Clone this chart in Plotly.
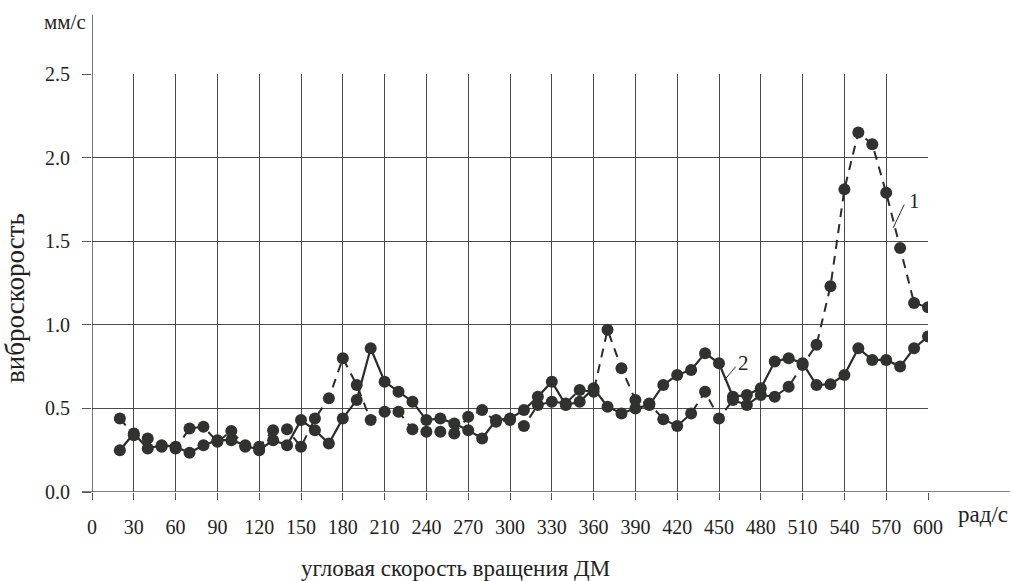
import plotly.graph_objects as go

# угловая скорость, рад/с
omega = list(range(20, 601, 10))

# кривая 1 (штриховая)
curve1 = [0.44, 0.34, 0.32, 0.27, 0.26, 0.38, 0.39, 0.30, 0.365, 0.27,
          0.27, 0.37, 0.375, 0.27, 0.44, 0.56, 0.80, 0.64, 0.43, 0.48,
          0.48, 0.375, 0.36, 0.36, 0.35, 0.45, 0.49, 0.42, 0.43, 0.395,
          0.52, 0.54, 0.53, 0.61, 0.60, 0.97, 0.74, 0.55, 0.53, 0.435,
          0.395, 0.47, 0.60, 0.44, 0.55, 0.52, 0.58, 0.57, 0.63, 0.76,
          0.88, 1.23, 1.81, 2.15, 2.08, 1.79, 1.46, 1.13, 1.105]

# кривая 2 (сплошная)
curve2 = [0.25, 0.35, 0.26, 0.28, 0.27, 0.235, 0.28, 0.31, 0.31, 0.28,
          0.25, 0.31, 0.28, 0.43, 0.37, 0.29, 0.44, 0.55, 0.86, 0.66,
          0.60, 0.54, 0.43, 0.44, 0.41, 0.37, 0.32, 0.43, 0.44, 0.49,
          0.57, 0.66, 0.52, 0.54, 0.62, 0.51, 0.47, 0.50, 0.52, 0.64,
          0.70, 0.73, 0.83, 0.77, 0.57, 0.58, 0.62, 0.78, 0.80, 0.77,
          0.64, 0.645, 0.70, 0.86, 0.79, 0.79, 0.75, 0.86, 0.93]

x_ticks = list(range(0, 601, 30))
y_ticks = [0.0, 0.5, 1.0, 1.5, 2.0, 2.5]

FONT = "Liberation Serif, Times New Roman, serif"
INK = "#2b2b2b"
MARK = "#30322e"
TXT = "#222"

fig = go.Figure()

fig.add_trace(go.Scatter(
    x=omega, y=curve2, mode="lines+markers",
    line=dict(color=INK, width=2.2),
    marker=dict(size=12, color=MARK),
    showlegend=False,
))
fig.add_trace(go.Scatter(
    x=omega, y=curve1, mode="lines+markers",
    line=dict(color=INK, width=2, dash="9px,7px"),
    marker=dict(size=12, color=MARK),
    showlegend=False,
))

# выноски с номерами кривых
fig.add_shape(type="line", x0=575, y0=1.58, x1=583, y1=1.72,
              line=dict(color=INK, width=1))
fig.add_annotation(x=585, y=1.74, text="1", showarrow=False,
                   xanchor="left", yanchor="middle",
                   font=dict(family=FONT, size=21, color=TXT))
fig.add_shape(type="line", x0=454, y0=0.67, x1=462, y1=0.75,
              line=dict(color=INK, width=1))
fig.add_annotation(x=462, y=0.77, text="2", showarrow=False,
                   xanchor="left", yanchor="middle",
                   font=dict(family=FONT, size=21, color=TXT))

# продлённые оси
fig.add_shape(type="line", xref="x", yref="paper", x0=0, x1=0, y0=0, y1=1.142,
              line=dict(color=INK, width=1.3))
fig.add_shape(type="line", xref="paper", yref="y", x0=-0.012, x1=1.098, y0=0, y1=0,
              line=dict(color="#555", width=1.3))

fig.update_xaxes(
    range=[0, 600], tickvals=x_ticks, ticktext=[str(v) for v in x_ticks],
    showgrid=True, gridcolor="#4a4a4a", gridwidth=1,
    zeroline=False, showline=False,
    ticks="outside", ticklen=7, tickcolor="#555",
    ticklabelstandoff=10,
    tickfont=dict(family=FONT, size=20, color=TXT),
)
fig.update_yaxes(
    range=[0, 2.5], tickvals=y_ticks, ticktext=[f"{v:.1f}" for v in y_ticks],
    showgrid=True, gridcolor="#4a4a4a", gridwidth=1,
    zeroline=False, showline=False,
    ticks="outside", ticklen=9, tickcolor="#555",
    ticklabelstandoff=8,
    tickfont=dict(family=FONT, size=20, color=TXT),
)

fig.add_annotation(xref="paper", yref="paper", x=-0.005, y=1.125, text="мм/с",
                   showarrow=False, xanchor="right", yanchor="middle",
                   font=dict(family=FONT, size=21, color=TXT))
fig.add_annotation(xref="paper", yref="paper", x=1.033, y=-0.055, text="рад/с",
                   showarrow=False, xanchor="left", yanchor="middle",
                   font=dict(family=FONT, size=23, color=TXT))
fig.add_annotation(xref="paper", yref="paper", x=-0.093, y=0.465, text="виброскорость",
                   showarrow=False, textangle=-90, xanchor="center", yanchor="middle",
                   font=dict(family=FONT, size=27, color=TXT))
fig.add_annotation(xref="paper", yref="paper", x=0.435, y=-0.183,
                   text="угловая скорость вращения ДМ",
                   showarrow=False, xanchor="center", yanchor="middle",
                   font=dict(family=FONT, size=23, color=TXT))

fig.update_layout(
    width=1013, height=581,
    margin=dict(l=92, r=85, t=74, b=89),
    paper_bgcolor="white", plot_bgcolor="white",
)

fig.write_html("out.html")
